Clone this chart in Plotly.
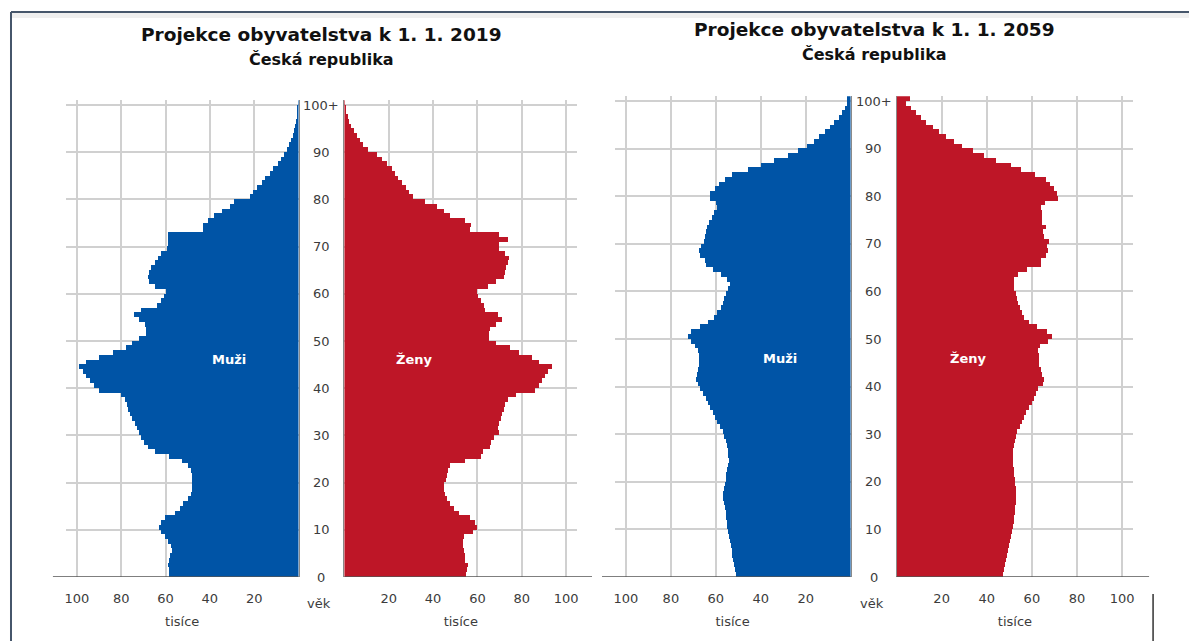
import plotly.graph_objects as go

ages = list(range(101))
age_tick_vals = [0, 10, 20, 30, 40, 50, 60, 70, 80, 90, 100]
age_tick_text = ["0", "10", "20", "30", "40", "50", "60", "70", "80", "90", "100+"]
x_tick_vals = [20, 40, 60, 80, 100]
x_tick_text = ["20", "40", "60", "80", "100"]

# thousands of persons, ages 0..100+
men_2019 = [58.5, 58.5, 59, 58.5, 58, 57, 57.5, 59, 60.5, 62,
            63, 62, 60.5, 56, 53.5, 52, 50, 48.5, 48, 48,
            48, 48, 48.5, 50, 52.5, 58.5, 65, 68, 70, 71,
            72, 73, 74, 75, 76, 77, 77.5, 78.5, 80, 90,
            92.5, 94, 96, 97.5, 99, 96, 90, 84, 78, 75,
            72, 69, 69, 69.5, 72, 74.5, 71, 64, 62, 61,
            60, 65, 67.5, 68, 67.5, 66.5, 65, 63.5, 62, 59.5,
            59, 59, 59, 43, 43, 41, 38, 34.5, 31, 29,
            22, 20.5, 19, 16.5, 15, 13, 11.5, 9.5, 8, 6.5,
            5.2, 4.3, 3.5, 2.8, 2.2, 1.6, 1.2, 0.9, 0.6, 0.4,
            0.3]
women_2019 = [55, 55.5, 56, 54.5, 54.5, 54, 53.5, 53.5, 54, 58,
              60, 59, 57, 52, 49.5, 48, 46.5, 45.5, 45, 45,
              46, 46.5, 47, 48, 54.5, 62, 62.5, 66, 66.5, 67.5,
              70, 69.5, 70, 71, 71.5, 72, 72.5, 74, 77.5, 86,
              88, 89.5, 90.5, 92, 94, 88, 85, 79, 75, 68.5,
              65.5, 65.5, 66, 68.5, 71.5, 69.5, 63.5, 63, 62, 60.5,
              60, 65, 68.5, 72, 72.5, 73, 74, 74.5, 72.5, 70,
              70, 74, 70, 57, 57.5, 54.5, 48, 45, 42, 36.5,
              31, 29.5, 28, 26, 24.5, 23, 21.5, 19.5, 17, 15,
              11, 8.5, 7, 5.7, 4.5, 3.2, 2.4, 1.6, 1.0, 0.6,
              0.4]
men_2059 = [51, 51.5, 52, 52.3, 52.7, 53, 53.3, 53.8, 54.2, 54.7,
            55, 55.3, 55.6, 55.8, 56.2, 56.5, 56.7, 56.7, 56.5, 56.2,
            55.8, 55.4, 55, 54.7, 54.3, 54.5, 54.9, 55.3, 55.8, 56.5,
            57, 58.3, 59.5, 60.5, 61.5, 62.5, 63.5, 64.5, 65.8, 67,
            68, 69, 68.5, 68.2, 67.8, 67.5, 67.5, 68, 69.5, 71,
            72.5, 71, 67, 63.5, 61, 59.5, 58, 57, 56.5, 55.7,
            54.5, 54, 55, 58, 61.5, 64.5, 65, 67, 67.5, 66.5,
            65.5, 65, 64.5, 64, 63, 62, 61, 59.5, 60, 62.7,
            62.5, 60.5, 58.5, 56, 53, 46, 40, 34, 28, 23.5,
            19.5, 16.5, 14, 11.5, 9.5, 7.5, 5.5, 4, 2.5, 1.8,
            1.5]
women_2059 = [46.8, 47.3, 47.8, 48.3, 48.8, 49.2, 49.7, 50.2, 50.7, 51.1,
              51.4, 51.7, 52, 52.3, 52.5, 52.6, 52.6, 52.6, 52.6, 52.5,
              52.3, 52, 51.8, 51.5, 51.2, 51.4, 51.6, 51.9, 52.3, 52.8,
              53.4, 54.5, 55.3, 56.2, 57, 58.5, 59.8, 60.7, 61.5, 62.5,
              64.5, 65, 64.3, 63.7, 63, 62.9, 62.9, 62.6, 63.5, 67,
              68.8, 66.5, 62, 58.5, 56.5, 55.3, 54.6, 53.8, 53.2, 52.6,
              52, 51.9, 51.9, 53.5, 57.5, 64, 63.7, 66.2, 67, 66.6,
              67.4, 65.1, 64.7, 65.9, 64.4, 64.4, 64.1, 63.7, 65.5, 71.5,
              71, 69.6, 68, 66, 61, 55, 50.4, 44, 38.7, 33.5,
              28.8, 25.4, 21.8, 18.8, 15.9, 12.9, 10.7, 8.5, 6.3, 4.1,
              5.6]

BLUE = "#0054A6"
RED = "#BE1627"
GRID = "#d0d0d0"
TXT = "#3c3c3c"
FONT = "DejaVu Sans"

# page body has an 8px margin; figure is sized to fit the window
OFF = 8
W, H = 1197 - OFF, 641 - OFF
def px(x):
    return (x - OFF) / W
def py(y):
    return 1 - (y - OFF) / H

bar_y = [a + 0.5 for a in ages]

fig = go.Figure()
for vals, col, xa, ya in [(men_2019, BLUE, "x", "y"), (women_2019, RED, "x2", "y2"),
                          (men_2059, BLUE, "x3", "y3"), (women_2059, RED, "x4", "y4")]:
    fig.add_trace(go.Bar(x=vals, y=bar_y, orientation="h", width=1.0,
                         marker=dict(color=col, line=dict(width=0)),
                         xaxis=xa, yaxis=ya, showlegend=False, hoverinfo="x+y"))

xcommon = dict(tickvals=x_tick_vals, ticktext=x_tick_text, showgrid=True, gridcolor=GRID,
               gridwidth=1.5, zeroline=False, showline=False, ticks="",
               ticklabelstandoff=12, tickfont=dict(family=FONT, size=13, color=TXT),
               title=dict(text="tisíce", font=dict(family=FONT, size=13, color=TXT), standoff=11),
               fixedrange=True)
ycommon = dict(range=[0, 101], tickvals=age_tick_vals[1:], showgrid=True, gridcolor=GRID,
               gridwidth=1.5, zeroline=False, showticklabels=False, ticks="",
               showline=True, linecolor="#8a8a8a", linewidth=1.2, fixedrange=True)

yL = [py(577), py(577 - 4.72 * 101)]
yR = [py(577), py(577 - 4.76 * 101)]

layout = dict(
    width=W, height=H, margin=dict(l=0, r=0, t=0, b=0),
    paper_bgcolor="white", plot_bgcolor="white", bargap=0,
    xaxis=dict(domain=[px(298 - 105 * 2.22), px(298)], range=[105, 0], anchor="y", **xcommon),
    xaxis2=dict(domain=[px(344), px(344 + 105 * 2.22)], range=[0, 105], anchor="y2", **xcommon),
    xaxis3=dict(domain=[px(851 - 105 * 2.25), px(851)], range=[105, 0], anchor="y3", **xcommon),
    xaxis4=dict(domain=[px(897), px(897 + 105 * 2.26)], range=[0, 105], anchor="y4", **xcommon),
    yaxis=dict(domain=yL, anchor="x", side="right", **ycommon),
    yaxis2=dict(domain=yL, anchor="x2", side="left", **ycommon),
    yaxis3=dict(domain=yR, anchor="x3", side="right", **ycommon),
    yaxis4=dict(domain=yR, anchor="x4", side="left", **ycommon),
)
fig.update_layout(**layout)

ann = []
# titles
for cx, ty, sy, year in [(321, 35, 59, "2019"), (875, 30, 55, "2059")]:
    ann.append(dict(x=px(cx), y=py(ty), xref="paper", yref="paper", showarrow=False,
                    text="<b>Projekce obyvatelstva k 1. 1. " + year + "</b>",
                    font=dict(family=FONT, size=18.5, color="#111111"), xanchor="center", yanchor="middle"))
    ann.append(dict(x=px(cx), y=py(sy), xref="paper", yref="paper", showarrow=False,
                    text="<b>Česká republika</b>",
                    font=dict(family=FONT, size=16, color="#111111"), xanchor="center", yanchor="middle"))
# age labels
for cx, yref in [(321, "y"), (874, "y3")]:
    for v, t in zip(age_tick_vals, age_tick_text):
        ann.append(dict(x=px(cx), y=v, xref="paper", yref=yref, showarrow=False, text=t,
                        font=dict(family=FONT, size=13, color=TXT), xanchor="center", yanchor="middle"))
    ann.append(dict(x=px(cx - 2), y=py(603), xref="paper", yref="paper", showarrow=False, text="věk",
                    font=dict(family=FONT, size=13, color=TXT), xanchor="center", yanchor="middle"))
# sex labels
for xr, yr, txt in [("x", "y", "Muži"), ("x2", "y2", "Ženy"), ("x3", "y3", "Muži"), ("x4", "y4", "Ženy")]:
    ann.append(dict(x=31.5, y=46, xref=xr, yref=yr, showarrow=False, text="<b>" + txt + "</b>",
                    font=dict(family=FONT, size=13, color="white"), xanchor="center", yanchor="middle"))
fig.update_layout(annotations=ann)

shapes = []
# baselines
for x0, x1, yr in [(52, 298, "y"), (344, 592, "y2"), (602, 851, "y3"), (897, 1150, "y4")]:
    shapes.append(dict(type="line", xref="paper", yref=yr, x0=px(x0), x1=px(x1), y0=0, y1=0,
                       line=dict(color="#555555", width=1.5)))
# frame
shapes.append(dict(type="rect", xref="paper", yref="paper", x0=px(10), x1=px(1197), y0=py(13), y1=py(18),
                   fillcolor="rgba(120,120,120,0.12)", line=dict(width=0), layer="below"))
shapes.append(dict(type="line", xref="paper", yref="paper", x0=px(10), x1=px(1197), y0=py(12), y1=py(12),
                   line=dict(color="#46566b", width=2)))
shapes.append(dict(type="line", xref="paper", yref="paper", x0=px(10), x1=px(10), y0=py(12), y1=py(641),
                   line=dict(color="#46566b", width=2)))
shapes.append(dict(type="line", xref="paper", yref="paper", x0=px(1154), x1=px(1154), y0=py(594), y1=py(641),
                   line=dict(color="#333333", width=1.5)))
fig.update_layout(shapes=shapes)

fig.write_html("out.html")
